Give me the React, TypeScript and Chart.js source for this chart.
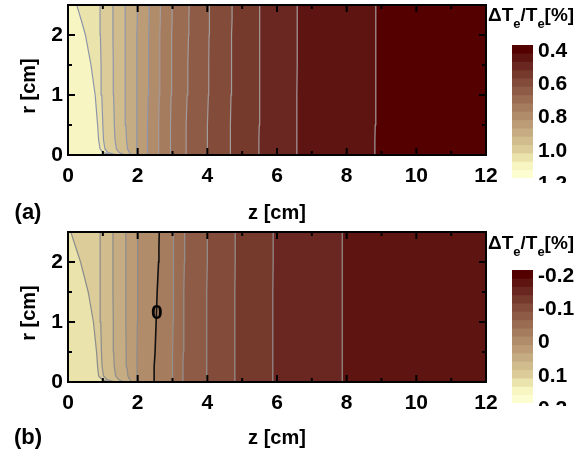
import React, { useEffect, useRef } from 'react';
import { Chart, registerables } from 'chart.js';

Chart.register(...registerables);

const FONT = "'Liberation Sans', Arial, Helvetica, sans-serif";

// radial sample positions (cm) for contour polylines, top -> bottom
const R_SAMPLES = [2.5, 2.25, 2.0, 1.5, 1.0, 0.5, 0.25, 0.1, 0.04, 0];

const Z_TICKS_MAJOR = [0, 2, 4, 6, 8, 10, 12];
const Z_TICKS_MINOR = [1, 3, 5, 7, 9, 11];
const R_TICKS_MAJOR = [0, 1, 2];
const R_TICKS_MINOR = [0.5, 1.5, 2.5];

// 16 discrete colormap steps, dark (low value) -> light (high value)
const BAND_COLORS = [
  '#540000', '#5e1410', '#6a2620', '#763a2c', '#834c3a', '#8e5c46', '#9a6c52', '#a67c5e',
  '#b08c6a', '#bb9c76', '#c6ac82', '#d1bc8e', '#dccc9a', '#ebe3ac', '#f7f5c2', '#fdfdd2',
];

// panel (a) colorbar levels
const LEVELS_A = [0.4, 0.45, 0.5, 0.55, 0.6, 0.65, 0.7, 0.75, 0.8, 0.85, 0.9, 0.95, 1.0, 1.05, 1.1, 1.15, 1.2];
const CBAR_TICKS_A = [0.4, 0.6, 0.8, 1.0, 1.2];
const CBAR_LABELS_A = ['0.4', '0.6', '0.8', '1.0', '1.2'];

// panel (b) colorbar levels
const LEVELS_B = [-0.2, -0.175, -0.15, -0.125, -0.1, -0.075, -0.05, -0.025, 0, 0.025, 0.05, 0.075, 0.1, 0.125, 0.15, 0.175, 0.2];
const CBAR_TICKS_B = [-0.2, -0.1, 0, 0.1, 0.2];
const CBAR_LABELS_B = ['-0.2', '-0.1', '0', '0.1', '0.2'];

// panel (a) contour levels and their z positions (cm) at R_SAMPLES
const CONTOUR_LEVELS_A = [1.1, 1.05, 1.0, 0.95, 0.9, 0.85, 0.8, 0.75, 0.7, 0.65, 0.6, 0.55, 0.5, 0.45];
const CONTOUR_Z_A = [
  [0.25, 0.38, 0.5, 0.66, 0.78, 0.85, 0.88, 0.92, 1.02, 1.25],
  [0.92, 0.92, 0.93, 0.95, 0.97, 1.0, 1.02, 1.06, 1.15, 1.4],
  [1.29, 1.29, 1.29, 1.3, 1.31, 1.33, 1.35, 1.39, 1.47, 1.62],
  [1.64, 1.64, 1.64, 1.64, 1.65, 1.66, 1.68, 1.71, 1.76, 1.83],
  [1.99, 1.99, 1.98, 1.98, 1.98, 1.97, 1.97, 1.97, 1.97, 1.97],
  [2.33, 2.33, 2.32, 2.31, 2.3, 2.29, 2.28, 2.28, 2.28, 2.28],
  [2.65, 2.65, 2.64, 2.63, 2.62, 2.61, 2.6, 2.6, 2.6, 2.6],
  [2.99, 2.99, 2.98, 2.97, 2.96, 2.95, 2.94, 2.94, 2.94, 2.94],
  [3.48, 3.47, 3.46, 3.44, 3.42, 3.4, 3.39, 3.39, 3.39, 3.39],
  [4.06, 4.06, 4.05, 4.04, 4.03, 4.01, 4.0, 4.0, 4.0, 4.0],
  [4.71, 4.71, 4.7, 4.69, 4.68, 4.67, 4.66, 4.66, 4.66, 4.66],
  [5.51, 5.51, 5.5, 5.5, 5.49, 5.49, 5.48, 5.48, 5.48, 5.48],
  [6.58, 6.58, 6.58, 6.58, 6.57, 6.57, 6.57, 6.57, 6.57, 6.57],
  [8.84, 8.84, 8.84, 8.83, 8.83, 8.82, 8.81, 8.81, 8.81, 8.81],
];

// panel (b) contour levels and their z positions (cm) at R_SAMPLES
const CONTOUR_LEVELS_B = [0.125, 0.1, 0.075, 0.05, 0.025, 0, -0.025, -0.05, -0.075, -0.1, -0.125, -0.15];
const CONTOUR_Z_B = [
  [0.08, 0.22, 0.36, 0.58, 0.73, 0.82, 0.85, 0.88, 0.98, 1.2],
  [0.92, 0.92, 0.92, 0.93, 0.94, 0.96, 0.98, 1.02, 1.12, 1.35],
  [1.29, 1.29, 1.29, 1.29, 1.3, 1.31, 1.33, 1.37, 1.45, 1.6],
  [1.66, 1.66, 1.66, 1.66, 1.66, 1.67, 1.69, 1.72, 1.77, 1.85],
  [2.0, 2.0, 2.0, 1.99, 1.99, 1.98, 1.98, 1.98, 1.98, 1.98],
  [2.62, 2.61, 2.6, 2.56, 2.53, 2.5, 2.48, 2.47, 2.47, 2.47],
  [3.03, 3.03, 3.03, 3.02, 3.02, 3.01, 3.0, 3.0, 3.0, 3.0],
  [3.35, 3.35, 3.34, 3.33, 3.32, 3.31, 3.3, 3.3, 3.3, 3.3],
  [4.0, 4.0, 4.0, 3.99, 3.99, 3.98, 3.98, 3.98, 3.98, 3.98],
  [4.8, 4.8, 4.8, 4.79, 4.79, 4.79, 4.79, 4.79, 4.79, 4.79],
  [5.89, 5.89, 5.89, 5.88, 5.88, 5.88, 5.88, 5.88, 5.88, 5.88],
  [7.88, 7.88, 7.88, 7.87, 7.87, 7.87, 7.87, 7.87, 7.87, 7.87],
];

const ZERO_LABEL_B = { z: 2.55, r: 1.15, text: '0' };

function levelIndex(levels: number[], v: number) {
  return levels.findIndex((l) => Math.abs(l - v) < 1e-6);
}

const noScalePadding = (s: any) => {
  s.paddingTop = 0;
  s.paddingBottom = 0;
  s.paddingLeft = 0;
  s.paddingRight = 0;
};

const framePlugin = {
  id: 'frameTicks',
  afterDatasetsDraw(chart: any) {
    const { ctx, chartArea: a, scales } = chart;
    const x = scales.x;
    const y = scales.y;
    ctx.save();
    ctx.strokeStyle = '#000';
    ctx.lineWidth = 2;
    const seg = (x1: number, y1: number, x2: number, y2: number) => {
      ctx.beginPath();
      ctx.moveTo(x1, y1);
      ctx.lineTo(x2, y2);
      ctx.stroke();
    };
    Z_TICKS_MAJOR.forEach((v) => {
      const p = x.getPixelForValue(v);
      seg(p, a.bottom, p, a.bottom - 7);
      seg(p, a.top, p, a.top + 7);
    });
    Z_TICKS_MINOR.forEach((v) => {
      const p = x.getPixelForValue(v);
      seg(p, a.bottom, p, a.bottom - 4);
      seg(p, a.top, p, a.top + 4);
    });
    R_TICKS_MAJOR.forEach((v) => {
      const p = y.getPixelForValue(v);
      seg(a.left, p, a.left + 7, p);
      seg(a.right, p, a.right - 7, p);
    });
    R_TICKS_MINOR.forEach((v) => {
      const p = y.getPixelForValue(v);
      seg(a.left, p, a.left + 4, p);
      seg(a.right, p, a.right - 4, p);
    });
    ctx.strokeRect(a.left, a.top, a.right - a.left, a.bottom - a.top);
    ctx.restore();
  },
};

function ContourPanel(props: {
  top: number;
  padTop: number;
  levels: number[];
  contourLevels: number[];
  contourZ: number[][];
  lineColorLight: string;
  lineColorDark: string;
  panelLabel: string;
  titlePad: number;
  panelLabelY: number;
  zeroLabel?: { z: number; r: number; text: string };
}) {
  const ref = useRef<HTMLCanvasElement>(null);
  useEffect(() => {
    const { padTop, levels, contourLevels, contourZ, lineColorLight, lineColorDark, panelLabel, titlePad, panelLabelY, zeroLabel } = props;
    const baseBand = levelIndex(levels, contourLevels[0]);
    const datasets: any[] = [
      {
        data: [
          { x: -1, y: -1 },
          { x: 13, y: -1 },
          { x: 13, y: 3 },
          { x: -1, y: 3 },
        ],
        fill: 'shape',
        backgroundColor: BAND_COLORS[baseBand],
        borderColor: 'transparent',
        borderWidth: 1,
        pointRadius: 0,
        order: 1000,
        clip: 0,
      },
    ];
    contourLevels.forEach((L, k) => {
      const band = levelIndex(levels, L) - 1;
      const zs = contourZ[k];
      const pts: { x: number; y: number }[] = [
        { x: 13, y: -0.5 },
        { x: zs[zs.length - 1], y: -0.5 },
      ];
      for (let i = zs.length - 1; i >= 0; i--) pts.push({ x: zs[i], y: R_SAMPLES[i] });
      pts.push({ x: zs[0], y: 3 }, { x: 13, y: 3 });
      const isZero = Math.abs(L) < 1e-9;
      datasets.push({
        data: pts,
        fill: 'shape',
        backgroundColor: BAND_COLORS[band],
        borderColor: isZero ? '#111' : band >= 8 ? lineColorLight : lineColorDark,
        borderWidth: isZero ? 1.6 : 1.2,
        pointRadius: 0,
        tension: 0,
        order: 500 - k,
        clip: 0,
      });
    });

    const textPlugin = {
      id: 'panelText',
      afterDraw(chart: any) {
        const { ctx, scales, chartArea } = chart;
        ctx.save();
        ctx.fillStyle = '#000';
        ctx.textAlign = 'center';
        ctx.textBaseline = 'middle';
        ctx.font = `bold 22px ${FONT}`;
        ctx.fillText(panelLabel, 28, panelLabelY);
        ctx.font = `bold 20px ${FONT}`;
        ctx.translate(29, (chartArea.top + chartArea.bottom) / 2 + 6);
        ctx.rotate(-Math.PI / 2);
        ctx.fillText('r [cm]', 0, 0);
        ctx.restore();
        if (zeroLabel) {
          ctx.save();
          ctx.fillStyle = '#000';
          ctx.font = `bold 21px ${FONT}`;
          ctx.textAlign = 'center';
          ctx.textBaseline = 'middle';
          ctx.fillText(zeroLabel.text, scales.x.getPixelForValue(zeroLabel.z), scales.y.getPixelForValue(zeroLabel.r));
          ctx.restore();
        }
      },
    };

    const tickFont = { family: FONT, size: 21, weight: 'bold' as const };
    const chart = new Chart(ref.current as HTMLCanvasElement, {
      type: 'line',
      data: { datasets },
      options: {
        responsive: false,
        animation: false,
        events: [],
        layout: { padding: { top: padTop, right: 14, bottom: 0, left: 0 } },
        plugins: { legend: { display: false }, tooltip: { enabled: false } },
        scales: {
          x: {
            type: 'linear',
            min: 0,
            max: 12,
            afterBuildTicks: (s: any) => {
              s.ticks = Z_TICKS_MAJOR.map((v) => ({ value: v }));
            },
            ticks: { font: tickFont, color: '#000', padding: 9, maxRotation: 0, autoSkip: false },
            grid: { display: false, drawTicks: false },
            border: { display: false },
            title: {
              display: true,
              text: 'z [cm]',
              color: '#000',
              font: { family: FONT, size: 20, weight: 'bold' },
              padding: { top: 0, bottom: titlePad },
            },
            afterFit: (s: any) => {
              s.height = 75;
              noScalePadding(s);
            },
          },
          y: {
            type: 'linear',
            min: 0,
            max: 2.5,
            afterBuildTicks: (s: any) => {
              s.ticks = R_TICKS_MAJOR.map((v) => ({ value: v }));
            },
            ticks: { font: tickFont, color: '#000', padding: 5, autoSkip: false },
            grid: { display: false, drawTicks: false },
            border: { display: false },
            afterFit: (s: any) => {
              s.width = 68;
              noScalePadding(s);
            },
          },
        },
      } as any,
      plugins: [framePlugin, textPlugin],
    });
    return () => chart.destroy();
  }, []);
  return (
    <canvas
      ref={ref}
      width={500}
      height={230}
      style={{ position: 'absolute', left: 0, top: props.top, width: 500, height: 230, display: 'block' }}
    />
  );
}

function ColorBar(props: {
  top: number;
  height: number;
  padTop: number;
  levels: number[];
  ticks: number[];
  labels: string[];
  titleY: number;
}) {
  const ref = useRef<HTMLCanvasElement>(null);
  useEffect(() => {
    const { height, padTop, levels, ticks, labels, titleY } = props;
    const datasets = levels.slice(0, -1).map((lo, i) => ({
      data: [[lo, levels[i + 1]]],
      backgroundColor: BAND_COLORS[i],
      borderWidth: 0,
      grouped: false,
      barPercentage: 1,
      categoryPercentage: 1,
    }));
    const barBottom = padTop + 133;
    const titlePlugin = {
      id: 'cbarTitle',
      afterDraw(chart: any) {
        const { ctx } = chart;
        ctx.save();
        ctx.fillStyle = '#000';
        ctx.textBaseline = 'middle';
        ctx.textAlign = 'left';
        const big = `bold 19px ${FONT}`;
        const small = `bold 13px ${FONT}`;
        let x = 48;
        const parts: [string, boolean][] = [
          ['\u0394T', false],
          ['e', true],
          ['/T', false],
          ['e', true],
          ['[%]', false],
        ];
        parts.forEach(([t, sub]) => {
          ctx.font = sub ? small : big;
          ctx.fillText(t, x, sub ? titleY + 8 : titleY);
          x += ctx.measureText(t).width;
        });
        ctx.restore();
      },
    };
    const chart = new Chart(ref.current as HTMLCanvasElement, {
      type: 'bar',
      data: { labels: [''], datasets },
      options: {
        responsive: false,
        animation: false,
        events: [],
        layout: { padding: { top: padTop, bottom: height - barBottom, left: 72, right: 0 } },
        plugins: { legend: { display: false }, tooltip: { enabled: false } },
        scales: {
          x: { display: false },
          y: {
            position: 'right',
            reverse: true,
            min: levels[0],
            max: levels[levels.length - 1],
            afterBuildTicks: (s: any) => {
              s.ticks = ticks.map((v) => ({ value: v }));
            },
            ticks: {
              font: { family: FONT, size: 21, weight: 'bold' },
              color: '#000',
              padding: 5,
              labelOffset: 6,
              autoSkip: false,
              callback: (_v: any, i: number) => labels[i],
            },
            grid: { display: false, drawTicks: false },
            border: { display: false },
            afterFit: (s: any) => {
              s.width = 46;
              noScalePadding(s);
            },
          },
        },
      } as any,
      plugins: [titlePlugin],
    });
    return () => chart.destroy();
  }, []);
  return (
    <canvas
      ref={ref}
      width={139}
      height={props.height}
      style={{ position: 'absolute', left: 440, top: props.top, width: 139, height: props.height, display: 'block' }}
    />
  );
}

export default function App() {
  return (
    <div style={{ position: 'absolute', left: 0, top: 0, width: 579, height: 458, background: '#fff', overflow: 'hidden' }}>
      <ContourPanel
        top={0}
        padTop={5}
        levels={LEVELS_A}
        contourLevels={CONTOUR_LEVELS_A}
        contourZ={CONTOUR_Z_A}
        lineColorLight="#8f96aa"
        lineColorDark="#a39c9c"
        panelLabel="(a)"
        titlePad={5}
        panelLabelY={213}
      />
      <ContourPanel
        top={227}
        padTop={5}
        levels={LEVELS_B}
        contourLevels={CONTOUR_LEVELS_B}
        contourZ={CONTOUR_Z_B}
        lineColorLight="#8c8c8c"
        lineColorDark="#959090"
        panelLabel="(b)"
        titlePad={7}
        panelLabelY={211}
        zeroLabel={ZERO_LABEL_B}
      />
      <ColorBar top={0} height={183} padTop={45} levels={LEVELS_A} ticks={CBAR_TICKS_A} labels={CBAR_LABELS_A} titleY={16} />
      <ColorBar top={227} height={179} padTop={43} levels={LEVELS_B} ticks={CBAR_TICKS_B} labels={CBAR_LABELS_B} titleY={17} />
    </div>
  );
}
